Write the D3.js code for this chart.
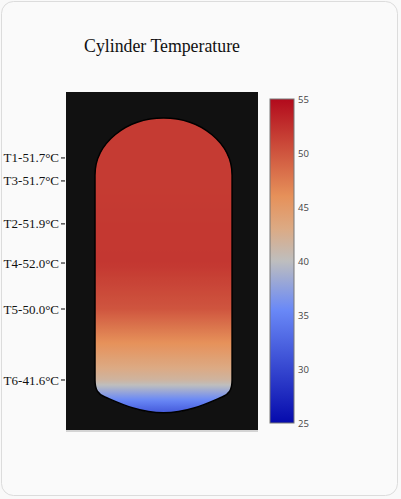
<!DOCTYPE html>
<html><head><meta charset="utf-8">
<script src="https://cdn.jsdelivr.net/npm/d3@7"></script>
<style>
html,body{margin:0;padding:0;background:#f9f9f9;}
svg{display:block;}
</style></head>
<body>
<svg id="chart" width="401" height="499"></svg>
<script>
// ---- data ----
const sensorNames = ["T1","T3","T2","T4","T5","T6"];
const sensorTemps = [51.7, 51.7, 51.9, 52.0, 50.0, 41.6];
const sensorHeights = [80.5, 73.7, 61.0, 49.4, 35.8, 14.8]; // % of plot height
const bottomTemp = 32;          // colour at base of tank
const bottomHeight = 5.6;
const colorTicks = [25, 30, 35, 40, 45, 50, 55];
const colorDomain = [25, 55];
const scaleStops = [0, 0.35, 0.5, 0.6, 0.7, 1];
const scaleColors = ["rgb(5,10,172)","rgb(106,137,247)","rgb(190,190,190)","rgb(220,170,132)","rgb(230,145,90)","rgb(178,10,28)"];
const titleText = "Cylinder Temperature";

(function(){
// ---- layout ----
const svg = d3.select("#chart");
svg.append("rect").attr("x",1.5).attr("y",1.5).attr("width",396).attr("height",494)
  .attr("rx",12).attr("fill","#fafafa").attr("stroke","#dcdcdc");

const plot = {x0:66, x1:258, y0:92, y1:430};
const x = d3.scaleLinear().domain([0,100]).range([plot.x0, plot.x1]);
const y = d3.scaleLinear().domain([0,100]).range([plot.y1, plot.y0]);

const tNorm = d3.scaleLinear().domain(colorDomain).range([0,1]);
const cScale = d3.scaleLinear().domain(scaleStops).range(scaleColors).interpolate(d3.interpolateRgb).clamp(true);
const color = t => cScale(tNorm(t));

svg.append("text").attr("x",162).attr("y",52).attr("text-anchor","middle")
  .attr("font-family","'Liberation Serif','Times New Roman',serif").attr("font-size",17.8)
  .attr("fill","#111").text(titleText);

// dark plot background
svg.append("rect").attr("x",plot.x0).attr("y",plot.y0).attr("width",plot.x1-plot.x0).attr("height",plot.y1-plot.y0)
  .attr("fill","#111");
svg.append("line").attr("x1",plot.x0).attr("x2",plot.x1).attr("y1",plot.y1+1).attr("y2",plot.y1+1)
  .attr("stroke","#d4d4d4").attr("stroke-width",2);

// gradient
const defs = svg.append("defs");
const grad = defs.append("linearGradient").attr("id","tankGrad").attr("gradientUnits","userSpaceOnUse")
  .attr("x1",0).attr("x2",0).attr("y1",y(100)).attr("y2",y(0));
const pts = sensorHeights.map((h,i)=>({h, t:sensorTemps[i]})).concat([{h:bottomHeight,t:bottomTemp}])
  .sort((a,b)=>b.h-a.h);
const tempAt = d3.scaleLinear().domain(pts.map(p=>p.h)).range(pts.map(p=>p.t)).clamp(true);
const N = 120;
for(let i=0;i<=N;i++){
  const h = 100 - i*100/N;
  grad.append("stop").attr("offset",(i/N)).attr("stop-color",color(tempAt(h)));
}

// tank shape
const L = x(15.1), R = x(86.5), cx = (L+R)/2;
const topY = y(92.3), sideTop = y(75.4), sideBot = y(14.8), bot = y(5.1);
const rx = (R-L)/2, ry = sideTop - topY, k = 0.5523;
const path = d3.path();
path.moveTo(L, sideTop);
path.bezierCurveTo(L, sideTop - k*ry, cx - k*rx, topY, cx, topY);
path.bezierCurveTo(cx + k*rx, topY, R, sideTop - k*ry, R, sideTop);
path.lineTo(R, sideBot);
path.bezierCurveTo(R, sideBot+10, R-3, sideBot+14, R-10, sideBot+17);
path.bezierCurveTo(R-24, sideBot+23, cx+25, bot, cx, bot);
path.bezierCurveTo(cx-25, bot, L+24, sideBot+23, L+10, sideBot+17);
path.bezierCurveTo(L+3, sideBot+14, L, sideBot+10, L, sideBot);
path.closePath();
svg.append("path").attr("d",path.toString()).attr("fill","url(#tankGrad)")
  .attr("stroke","#000").attr("stroke-width",1.5);

// left axis
const g = svg.append("g");
sensorNames.forEach((n,i)=>{
  const yy = y(sensorHeights[i]);
  g.append("line").attr("x1",61).attr("x2",65).attr("y1",yy).attr("y2",yy).attr("stroke","#555").attr("stroke-width",1.5);
  g.append("text").attr("x",59).attr("y",yy).attr("dy","0.35em").attr("text-anchor","end")
    .attr("font-family","'Liberation Serif','Times New Roman',serif").attr("font-size",13).attr("fill","#111")
    .text(`${n}-${sensorTemps[i].toFixed(1)}°C`);
});

// colorbar
const cb = {x:270, w:24, y0:99, y1:423};
const cy = d3.scaleLinear().domain(colorDomain).range([cb.y1, cb.y0]);
const cgrad = defs.append("linearGradient").attr("id","cbGrad").attr("x1",0).attr("x2",0).attr("y1",1).attr("y2",0);
scaleStops.forEach((s,i)=>cgrad.append("stop").attr("offset",s).attr("stop-color",scaleColors[i]));
svg.append("rect").attr("x",cb.x).attr("y",cb.y0).attr("width",cb.w).attr("height",cb.y1-cb.y0)
  .attr("fill","url(#cbGrad)").attr("stroke","#777").attr("stroke-width",1);
const ax = d3.axisRight(cy).tickValues(colorTicks).tickSize(0).tickPadding(4);
const axg = svg.append("g").attr("transform",`translate(${cb.x+cb.w},0)`).call(ax);
axg.select(".domain").remove();
axg.selectAll("text").attr("font-family","'Open Sans','DejaVu Sans',sans-serif").attr("font-size",9.5).attr("fill","#444");
})();
</script>
</body></html>
